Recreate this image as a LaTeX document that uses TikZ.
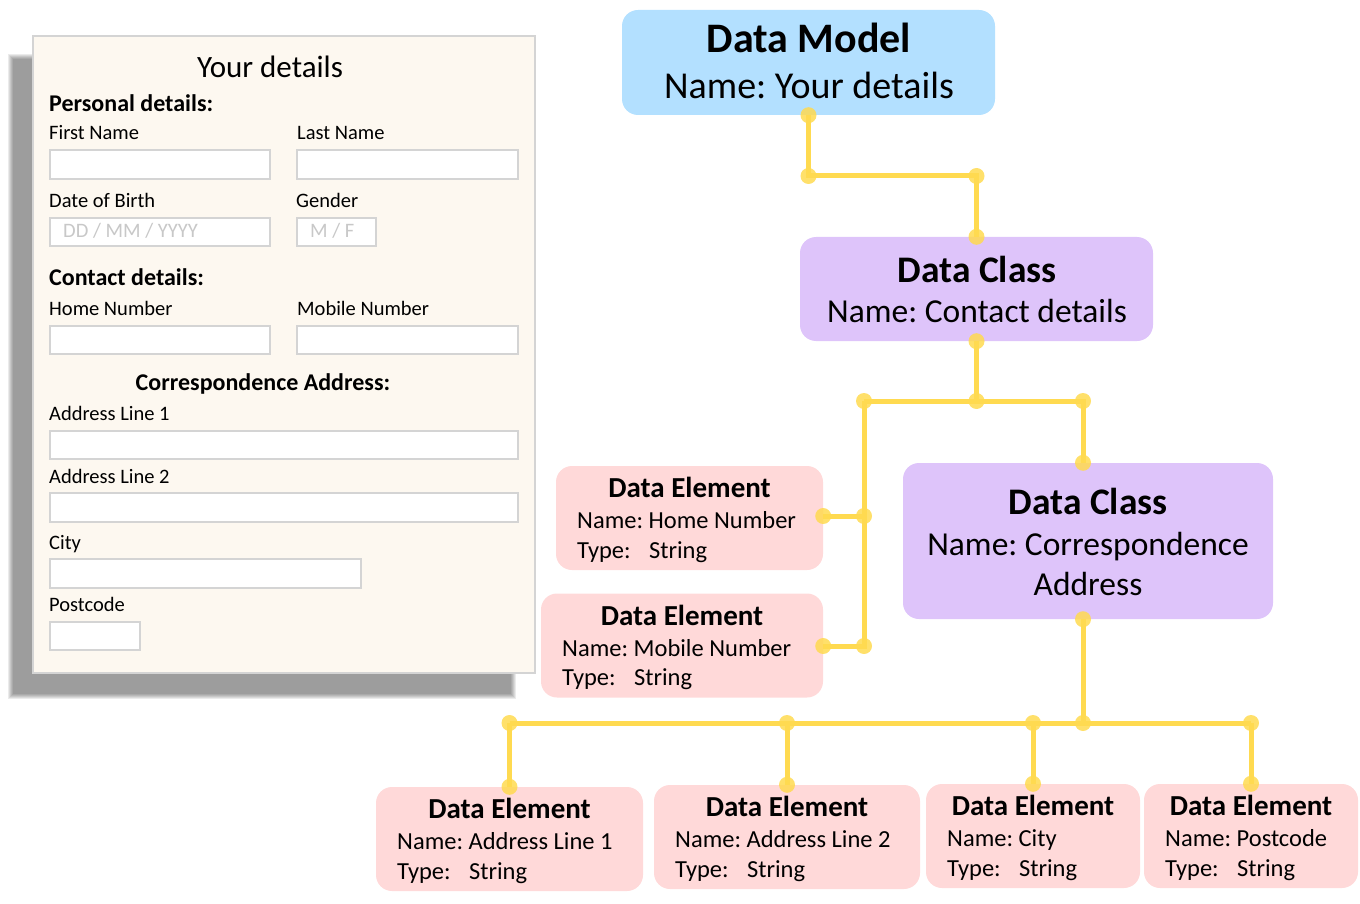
\documentclass[tikz,border=0pt]{standalone}
\usepackage{fontspec}
\setmainfont{Carlito}
\frenchspacing
\usetikzlibrary{positioning,calc}
\definecolor{modelblue}{RGB}{179,224,255}
\definecolor{classpurple}{RGB}{222,196,250}
\definecolor{elempink}{RGB}{255,217,217}
\definecolor{wireyellow}{RGB}{255,218,80}
\definecolor{formcream}{RGB}{253,248,240}
\definecolor{fieldgray}{RGB}{212,212,212}
\definecolor{hintgray}{RGB}{200,200,200}

\begin{document}
\begin{tikzpicture}[x=1pt, y=-1pt,
    box/.style={rectangle, rounded corners=16pt, inner sep=0pt},
    model/.style={box, fill=modelblue},
    cls/.style={box, fill=classpurple},
    elem/.style={box, fill=elempink, minimum height=104pt},
    panel/.style={rectangle, draw=fieldgray, line width=1.2pt, fill=formcream},
    field/.style={rectangle, draw=fieldgray, line width=1.6pt, fill=white,
                  inner sep=0pt},
    lbl/.style={anchor=base west, inner sep=0pt, font=\fontsize{20.5}{24}\selectfont},
    head/.style={anchor=base west, inner sep=0pt,
                 font=\fontsize{24}{28}\selectfont\bfseries},
    hint/.style={lbl, text=hintgray},
    btitle/.style={anchor=base, inner sep=0pt,
                   font=\fontsize{37.5}{44}\selectfont\bfseries},
    bline/.style={anchor=base, inner sep=0pt, font=\fontsize{33.5}{40}\selectfont},
    etitle/.style={anchor=base, inner sep=0pt,
                   font=\fontsize{29}{34}\selectfont\bfseries},
    eline/.style={anchor=base west, inner sep=0pt, font=\fontsize{24.5}{29}\selectfont},
    wire/.style={draw=wireyellow, line width=5pt},
    dot/.style={fill=wireyellow, opacity=0.85}]

\useasboundingbox (0,0) rectangle (1360,904);

% form with shadow
\foreach \d in {0,...,5} {\fill[black, opacity=0.08] (8+\d,54+\d) rectangle (516-\d,699-\d);}
\node[panel, minimum width=502pt, minimum height=637pt] (form) at (284,354.5) {};

\node[anchor=base, inner sep=0pt, font=\fontsize{31}{36}\selectfont] (ftitle) at (270,78) {Your details};
\node[head] (fpers) at (49,112) {Personal details:};
\node[lbl] (lfn) at (49,140) {First Name};
\node[lbl] (lln) at (297,140) {Last Name};
\node[lbl] (ldob) at (49,208) {Date of Birth};
\node[lbl] (lgen) at (296,208) {Gender};
\node[head] (fcont) at (49,285) {Contact details:};
\node[lbl] (lhome) at (49,315) {Home Number};
\node[lbl] (lmob) at (297,315) {Mobile Number};
\node[head, anchor=base] (faddr) at (263,390) {Correspondence Address:};
\node[lbl] (lad1) at (49,420) {Address Line 1};
\node[lbl] (lad2) at (49,483) {Address Line 2};
\node[lbl] (lcity) at (49,549) {City};
\node[lbl] (lpc) at (49,611) {Postcode};

\foreach \n/\cx/\cy/\w/\h in {ffn/160/164.5/220/29, fln/407.5/164.5/221/29,
                              fdob/160/232/220/28, fgen/336.5/232/79/28,
                              fhome/160/340/220/28, fmob/407.5/340/221/28,
                              fad1/284/445/468/28, fad2/284/507.5/468/29,
                              fcity/205.5/573.5/311/29, fpc/95/636/90/28} {
    \node[field, minimum width=\w pt, minimum height=\h pt] (\n) at (\cx,\cy) {};
}
\node[hint] (hdob) at (63,238) {DD / MM / YYYY};
\node[hint] (hgen) at (310,238) {M / F};

% model tree
\node[model, minimum width=373pt, minimum height=105pt] (dm) at (808.5,62.5) {};
\node[btitle, font=\fontsize{42}{48}\selectfont\bfseries] (dm-t) at (809,53) {Data Model};
\node[bline, font=\fontsize{38}{44}\selectfont] (dm-n) at (809,99) {Name: Your details};

\node[cls, minimum width=353pt, minimum height=104pt] (cc1) at (976.5,289) {};
\node[btitle] (cc1-t) at (977,282) {Data Class};
\node[bline] (cc1-n) at (977,322) {Name: Contact details};

\node[cls, minimum width=370pt, minimum height=156pt] (cc2) at (1088,541) {};
\node[btitle] (cc2-t) at (1088,514) {Data Class};
\node[bline] (cc2-n) at (1088,555) {Name: Correspondence};
\node[bline] (cc2-m) at (1088,595) {Address};

\foreach \n/\cx/\cy/\w/\nm in {home/689.5/518/267/Home Number,
                               mobile/682/645.5/282/Mobile Number,
                               al1/509.5/839/267/Address Line 1,
                               al2/787/837/266/Address Line 2,
                               city/1033/836/214/City,
                               post/1251/836/214/Postcode} {
    \node[elem, minimum width=\w pt] (\n) at (\cx,\cy) {};
    \node[etitle] (\n-t) at (\cx,\cy-20.5) {Data Element};
    \node[eline] (\n-n) at (\cx-\w/2+21,\cy+10.5) {Name: \nm};
    \node[eline] (\n-y) at (\cx-\w/2+21,\cy+40) {Type:\hspace{0.75em}String};
}

% wires
\coordinate (j1a) at (808.5,176);
\coordinate (j1b) at (976.5,176);
\coordinate (j2) at (976.5,401);
\coordinate (j2l) at (864,401);
\coordinate (j2r) at (1083,401);
\coordinate (j3a) at (864,516);
\coordinate (j3b) at (864,646);
\coordinate (j4) at (1083,723);

\draw[wire] (dm.south) -- (j1a) -- (j1b) -- (cc1.north);
\draw[wire] (cc1.south) -- (j2);
\draw[wire] (j2l) -- (j2r) -- (j2r |- cc2.north);
\draw[wire] (j2l) -- (j3b) -- (j3b -| mobile.east);
\draw[wire] (j3a) -- (j3a -| home.east);
\draw[wire] (j2r |- cc2.south) -- (j4);
\draw[wire] (al1.north |- j4) -- (post.north |- j4);
\foreach \e in {al1, al2, city, post} {\draw[wire] (\e.north |- j4) -- (\e.north);}

\foreach \p in {dm.south, j1a, j1b, cc1.north, cc1.south, j2, j2l, j2r,
                j2r |- cc2.north, j3a, j3b, j3a -| home.east, j3b -| mobile.east,
                j2r |- cc2.south, j4} {\fill[dot] (\p) circle (8pt);}
\foreach \e in {al1, al2, city, post} {
    \fill[dot] (\e.north |- j4) circle (8pt);
    \fill[dot] (\e.north) circle (8pt);
}
\end{tikzpicture}
\end{document}
